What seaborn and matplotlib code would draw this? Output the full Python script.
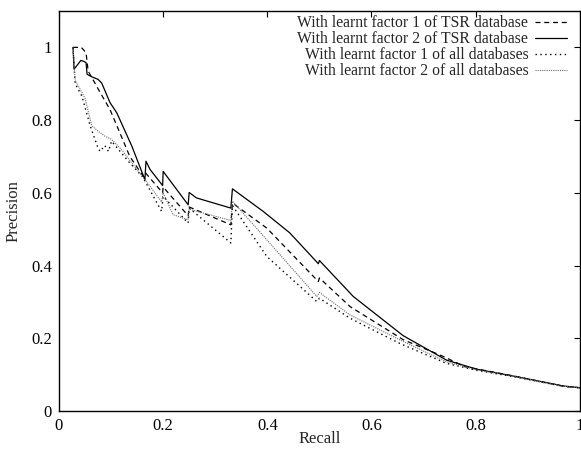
import matplotlib
matplotlib.use("Agg")
import matplotlib.pyplot as plt
import pandas as pd
import seaborn as sns

# precision / recall
recall_f1_tsr = [0.027, 0.043, 0.052, 0.056, 0.079, 0.098, 0.136, 0.162, 0.166, 0.175,
                 0.199, 0.200, 0.248, 0.250, 0.330, 0.333, 0.399, 0.498, 0.500, 0.559,
                 0.661, 0.738, 0.779, 0.878, 0.968, 1.0]
prec_f1_tsr = [1.0, 1.0, 0.985, 0.935, 0.876, 0.829, 0.700, 0.645, 0.655, 0.640,
               0.600, 0.616, 0.537, 0.561, 0.512, 0.572, 0.503, 0.356, 0.366, 0.287,
               0.196, 0.150, 0.122, 0.095, 0.068, 0.064]

recall_f2_tsr = [0.027, 0.029, 0.042, 0.047, 0.052, 0.054, 0.063, 0.075, 0.082, 0.098,
                 0.111, 0.140, 0.165, 0.167, 0.175, 0.199, 0.200, 0.248, 0.250, 0.264,
                 0.330, 0.333, 0.392, 0.443, 0.498, 0.500, 0.565, 0.661, 0.744, 0.802,
                 0.878, 0.968, 1.0]
prec_f2_tsr = [1.0, 0.940, 0.964, 0.962, 0.958, 0.926, 0.919, 0.912, 0.902, 0.848,
               0.820, 0.728, 0.636, 0.687, 0.664, 0.620, 0.659, 0.567, 0.601, 0.586,
               0.558, 0.611, 0.549, 0.490, 0.405, 0.414, 0.315, 0.207, 0.140, 0.115,
               0.0945, 0.069, 0.064]

recall_f1_all = [0.027, 0.031, 0.044, 0.060, 0.075, 0.079, 0.088, 0.095, 0.101, 0.136,
                 0.160, 0.166, 0.197, 0.200, 0.248, 0.250, 0.330, 0.333, 0.399, 0.495,
                 0.500, 0.559, 0.654, 0.744, 0.802, 0.878, 0.968, 1.0]
prec_f1_all = [1.0, 0.900, 0.866, 0.784, 0.723, 0.714, 0.730, 0.714, 0.742, 0.682,
               0.645, 0.630, 0.549, 0.590, 0.517, 0.558, 0.462, 0.565, 0.425, 0.301,
               0.310, 0.255, 0.186, 0.131, 0.112, 0.093, 0.068, 0.064]

recall_f2_all = [0.027, 0.031, 0.050, 0.063, 0.079, 0.088, 0.101, 0.120, 0.160, 0.166,
                 0.197, 0.200, 0.219, 0.248, 0.250, 0.330, 0.333, 0.399, 0.495, 0.500,
                 0.559, 0.654, 0.744, 0.802, 0.878, 0.968, 1.0]
prec_f2_all = [1.0, 0.910, 0.860, 0.784, 0.765, 0.756, 0.747, 0.719, 0.645, 0.635,
               0.575, 0.600, 0.540, 0.526, 0.555, 0.524, 0.577, 0.471, 0.315, 0.326,
               0.264, 0.196, 0.135, 0.113, 0.094, 0.068, 0.064]

labels = [
    "With learnt factor 1 of TSR database",
    "With learnt factor 2 of TSR database",
    "With learnt factor 1 of all databases",
    "With learnt factor 2 of all databases",
]
x_ticks = [0, 0.2, 0.4, 0.6, 0.8, 1]
y_ticks = [0, 0.2, 0.4, 0.6, 0.8, 1]
tick_text = ["0", "0.2", "0.4", "0.6", "0.8", "1"]


def main() -> None:
    sns.set_style("white")
    plt.rcParams["font.family"] = ["Liberation Serif", "DejaVu Serif"]
    plt.rcParams["font.size"] = 12

    series = [
        (recall_f1_tsr, prec_f1_tsr, "black", (0, (4, 3)), 0.9),
        (recall_f2_tsr, prec_f2_tsr, "black", "-", 0.9),
        (recall_f1_all, prec_f1_all, "black", (0, (1, 2.5)), 1.0),
        (recall_f2_all, prec_f2_all, "#6a6a6a", (0, (1, 1)), 0.8),
    ]

    fig = plt.figure(figsize=(5.81, 4.49), dpi=100)
    ax = fig.add_axes([0.1015, 0.0846, 0.8965, 0.8909])

    for (r, p, color, ls, lw), label in zip(series, labels):
        df = pd.DataFrame({"Recall": r, "Precision": p})
        sns.lineplot(data=df, x="Recall", y="Precision", ax=ax, sort=False,
                     estimator=None, color=color, linestyle=ls, linewidth=lw,
                     label=label)

    ax.set_xlim(0, 1)
    ax.set_ylim(0, 1.1)
    ax.set_xticks(x_ticks)
    ax.set_xticklabels(tick_text)
    ax.set_yticks(y_ticks)
    ax.set_yticklabels(tick_text)
    ax.tick_params(direction="in", top=True, right=True, length=4.5, width=0.8,
                   labelsize=12, pad=5, colors="black")
    for s in ax.spines.values():
        s.set_linewidth(1.0)
        s.set_color("black")
    ax.set_xlabel("Recall", fontsize=12, labelpad=-2)
    ax.set_ylabel("Precision", fontsize=12, labelpad=7)

    ax.legend(loc="upper right", bbox_to_anchor=(0.975, 0.99), frameon=False,
              markerfirst=False, handlelength=2.0, handletextpad=0.45,
              labelspacing=0.0, borderpad=0, borderaxespad=0, fontsize=11.3)

    fig.savefig("out.png", dpi=100)
    plt.close(fig)


if __name__ == "__main__":
    main()
